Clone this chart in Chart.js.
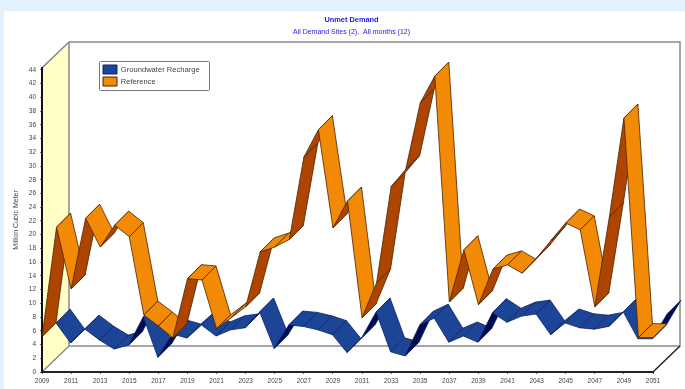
<!DOCTYPE html>
<html>
<head>
<meta charset="utf-8">
<title>Unmet Demand</title>
<script src="https://cdn.jsdelivr.net/npm/chart.js@4"></script>
<style>
  html, body { margin: 0; padding: 0; background: #e2f1fb; overflow: hidden; }
  #panel { position: absolute; left: 4px; top: 11px; width: 681px; height: 378px; background: #fff; }
  #chart { position: absolute; left: 0; top: 0; }
</style>
</head>
<body>
<div id="panel"></div>
<canvas id="chart" width="685" height="389"></canvas>
<script>
// Unmet demand per year, million cubic meter
const years = [2009, 2010, 2011, 2012, 2013, 2014, 2015, 2016, 2017, 2018, 2019, 2020, 2021, 2022,
  2023, 2024, 2025, 2026, 2027, 2028, 2029, 2030, 2031, 2032, 2033, 2034, 2035, 2036, 2037, 2038,
  2039, 2040, 2041, 2042, 2043, 2044, 2045, 2046, 2047, 2048, 2049, 2050, 2051];
const groundwaterRecharge = [5.1, 2.2, 4.2, 2.6, 1.3, 1.9, 6.0, 0.1, 3.5, 2.9, 4.8, 3.2, 4.1, 4.4,
  6.7, 1.4, 4.8, 4.6, 4.1, 3.4, 0.8, 2.9, 6.7, 0.9, 0.3, 4.8, 5.8, 2.3, 3.2, 2.3,
  6.6, 5.2, 6.1, 6.4, 3.4, 5.1, 4.4, 4.2, 4.6, 6.7, 2.8, 2.8, 6.4];
const reference = [5.1, 21.1, 12.1, 22.4, 18.2, 21.4, 19.7, 8.3, 6.7, 5.0, 13.6, 13.4, 6.3, 7.9,
  9.5, 17.5, 18.2, 19.3, 31.3, 35.3, 21.0, 24.9, 7.9, 13.0, 27.0, 29.5, 39.2, 43.1, 10.2, 17.8,
  9.8, 15.0, 15.6, 14.4, 16.6, 19.2, 21.7, 20.7, 9.5, 22.6, 37.0, 5.0, 5.0];
const yTop = 44.3;

// each series takes one slot of the chart depth, pixels per slot
const depthX = 14;
const depthY = -14;
// walls stand a little tighter than the two slots
const wallX = 27;
const wallY = -26;

const scene3d = {
  id: 'scene3d',
  afterLayout(chart) {
    // title sits over the whole box including the depth
    chart.boxes.filter(b => b.position === 'top').forEach(b => { b.left += 4; b.right += 4; });
    const legend = chart.legend;
    legend.left = 100;
    legend.top = 62;
    legend.right = 300;
    legend.bottom = 130;
  },
  beforeDraw(chart) {
    const { ctx, chartArea: a } = chart;
    // left wall
    ctx.fillStyle = '#ffffc6';
    ctx.beginPath();
    ctx.moveTo(a.left, a.bottom);
    ctx.lineTo(a.left, a.top);
    ctx.lineTo(a.left + wallX, a.top + wallY);
    ctx.lineTo(a.left + wallX, a.bottom + wallY);
    ctx.closePath();
    ctx.fill();
    // back wall frame and floor
    ctx.strokeStyle = '#8a8a8a';
    ctx.lineWidth = 1.5;
    ctx.beginPath();
    ctx.moveTo(a.left, a.top);
    ctx.lineTo(a.left + wallX, a.top + wallY);
    ctx.lineTo(a.right + wallX, a.top + wallY);
    ctx.lineTo(a.right + wallX, a.bottom + wallY);
    ctx.lineTo(a.left + wallX, a.bottom + wallY);
    ctx.lineTo(a.left + wallX, a.top + wallY);
    ctx.moveTo(a.left + wallX, a.bottom + wallY);
    ctx.lineTo(a.left, a.bottom);
    ctx.stroke();
    ctx.strokeStyle = '#222';
    ctx.beginPath();
    ctx.moveTo(a.right, a.bottom);
    ctx.lineTo(a.right + wallX, a.bottom + wallY);
    ctx.stroke();
    // legend frame
    ctx.fillStyle = '#fff';
    ctx.strokeStyle = '#777';
    ctx.lineWidth = 1;
    ctx.beginPath();
    ctx.roundRect(99.5, 61.5, 110, 29, 1);
    ctx.fill();
    ctx.stroke();
  },
  afterDatasetsDraw(chart) {
    const { ctx, scales: { x, y } } = chart;
    // back series first, each ribbon from left to right
    chart.data.datasets.forEach(ds => {
      const off = ds.depthSlot;
      const fx = (i) => x.getPixelForValue(i) + depthX * off;
      const fy = (i) => y.getPixelForValue(ds.data[i]) + depthY * off;
      ctx.lineWidth = 0.8;
      ctx.lineJoin = 'round';
      ctx.strokeStyle = ds.borderColor;
      for (let i = 0; i < years.length - 1; i++) {
        const x0 = fx(i), y0 = fy(i), x1 = fx(i + 1), y1 = fy(i + 1);
        // steeper than the depth direction means the underside faces us
        const under = (x1 - x0) * depthY - (y1 - y0) * depthX > 0;
        ctx.fillStyle = under ? ds.underColor : ds.backgroundColor;
        ctx.beginPath();
        ctx.moveTo(x0, y0);
        ctx.lineTo(x1, y1);
        ctx.lineTo(x1 + depthX, y1 + depthY);
        ctx.lineTo(x0 + depthX, y0 + depthY);
        ctx.closePath();
        ctx.fill();
        ctx.stroke();
      }
    });
  }
};

new Chart(document.getElementById('chart'), {
  type: 'line',
  data: {
    labels: years,
    datasets: [
      {
        label: 'Groundwater Recharge',
        data: groundwaterRecharge,
        depthSlot: 1,
        backgroundColor: '#1c4597',
        underColor: '#000a52',
        borderColor: '#0d2260',
        borderWidth: 1,
        showLine: false,
        pointRadius: 0
      },
      {
        label: 'Reference',
        data: reference,
        depthSlot: 0,
        backgroundColor: '#f28a05',
        underColor: '#ad4500',
        borderColor: '#4a2300',
        borderWidth: 1,
        showLine: false,
        pointRadius: 0
      }
    ]
  },
  options: {
    responsive: false,
    animation: false,
    layout: { padding: { left: 0, right: 32, top: 0, bottom: 0 } },
    scales: {
      x: {
        type: 'category',
        offset: false,
        afterFit: (s) => { s.height = 17; },
        border: { color: '#222', width: 2 },
        grid: { drawOnChartArea: false, tickLength: 2, tickColor: '#666' },
        ticks: {
          autoSkip: false,
          maxRotation: 0,
          padding: 3,
          color: '#444',
          font: { family: 'Liberation Sans', size: 6.5 },
          callback(value, index) { return index % 2 === 0 ? String(years[index]) : null; }
        }
      },
      y: {
        min: 0,
        max: yTop,
        afterFit: (s) => { s.width = 42; },
        border: { color: '#111', width: 2 },
        grid: { drawOnChartArea: false, tickLength: 2, tickColor: '#666' },
        title: {
          display: true,
          text: 'Million Cubic Meter',
          color: '#444',
          padding: { top: 12, bottom: 0 },
          font: { family: 'Liberation Sans', size: 7 }
        },
        ticks: {
          stepSize: 2,
          includeBounds: false,
          padding: 4,
          color: '#444',
          font: { family: 'Liberation Sans', size: 6.5 }
        }
      }
    },
    plugins: {
      tooltip: { enabled: false },
      title: {
        display: true,
        text: 'Unmet Demand',
        color: '#2222dd',
        fullSize: false,
        padding: { top: 16, bottom: 0 },
        font: { family: 'Liberation Sans', size: 7.4, weight: 'bold' }
      },
      subtitle: {
        display: true,
        text: 'All Demand Sites (2),  All months (12)',
        color: '#2222dd',
        fullSize: false,
        padding: { top: 2.6, bottom: 32 },
        font: { family: 'Liberation Sans', size: 7 }
      },
      legend: {
        position: 'chartArea',
        align: 'start',
        labels: {
          boxWidth: 14,
          boxHeight: 9,
          padding: 3,
          color: '#444',
          font: { family: 'Liberation Sans', size: 7.6 }
        }
      }
    }
  },
  plugins: [scene3d]
});
</script>
</body>
</html>
